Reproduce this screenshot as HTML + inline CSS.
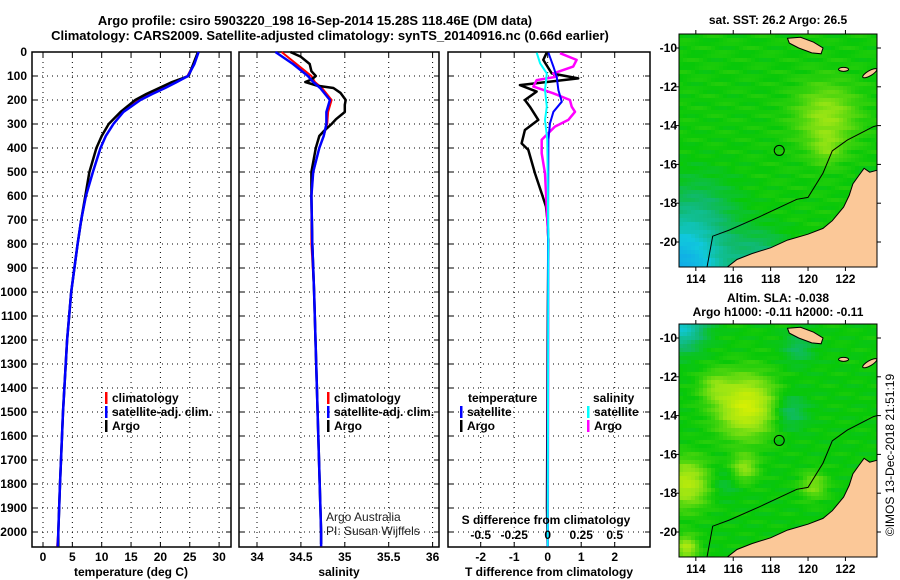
<!DOCTYPE html>
<html><head><meta charset="utf-8">
<style>
html,body{margin:0;padding:0;background:#fff;}
svg{display:block;font-family:"Liberation Sans",Arial,sans-serif;}
.t{font-size:12px;font-weight:bold;fill:#000;}
.ti{font-size:13px;font-weight:bold;fill:#000;}
.g{stroke:#000;stroke-width:1;stroke-dasharray:1 4;}
</style></head>
<body>
<svg id="fig" width="900" height="580" viewBox="0 0 900 580">
<text class="ti" x="315" y="25" text-anchor="middle">Argo profile: csiro 5903220_198 16-Sep-2014 15.28S 118.46E (DM data)</text>
<text class="ti" x="330" y="40" text-anchor="middle">Climatology: CARS2009. Satellite-adjusted climatology: synTS_20140916.nc (0.66d earlier)</text>
<g id="p1"></g>
<g id="p2"></g>
<g id="p3"></g>
<g id="m1"></g>
<g id="m2"></g>
<text class="t" x="778" y="24" text-anchor="middle">sat. SST: 26.2 Argo: 26.5</text>
<text class="t" x="778" y="302" text-anchor="middle">Altim. SLA: -0.038</text>
<text class="t" x="778" y="316" text-anchor="middle">Argo h1000: -0.11 h2000: -0.11</text>
<text class="t" style="font-weight:normal" x="0" y="0" transform="translate(894,455) rotate(-90)" text-anchor="middle">©IMOS 13-Dec-2018 21:51:19</text>
</svg>
<script>
// ---- data ----
const tDepths=[0,50,100,125,150,175,200,250,300,350,400,500,600,700,800,1000,1200,1500,1800,2000,2060];
const climT=[26.4,25.7,24.6,22.5,20.5,18.2,16.3,13.6,12.0,10.7,9.8,8.5,7.3,6.5,5.9,4.8,4.1,3.4,2.9,2.6,2.4];
const satT=[26.5,25.8,24.7,22.8,20.8,18.6,16.6,13.7,12.0,10.7,9.8,8.5,7.3,6.5,5.9,4.8,4.1,3.4,2.9,2.6,2.5];
const argoT=[26.4,25.6,24.8,22.0,19.8,17.6,15.7,13.2,11.2,10.0,9.1,7.9,7.2,6.5,5.9,4.8,4.1,3.4,2.9,2.6,2.6];
const sDepths=[0,50,100,125,150,200,250,300,350,400,500,600,800,1000,1500,2000,2060];
const climS=[34.28,34.45,34.62,34.66,34.74,34.85,34.81,34.80,34.76,34.71,34.64,34.62,34.62,34.65,34.69,34.73,34.73];
const satS=[34.21,34.41,34.58,34.64,34.72,34.83,34.79,34.79,34.76,34.71,34.64,34.62,34.63,34.65,34.69,34.73,34.73];
const argoSDepths=[0,20,50,80,100,115,125,140,150,170,200,220,250,280,300,330,350,400,500,600,800,1000,1500,2000,2050];
const argoS=[34.38,34.5,34.6,34.62,34.67,34.62,34.55,34.68,34.87,34.95,35.01,35.0,35.0,34.9,34.85,34.76,34.71,34.67,34.62,34.62,34.63,34.65,34.69,34.73,34.73];
const dTArgoDepths=[3,33,89,110,138,165,200,228,283,325,381,408,506,589,644,700,783,1200,1900,2060];
const dTArgo=[-0.03,-0.13,0.12,0.91,-0.83,-0.33,-0.68,-0.53,-0.28,-0.68,-0.78,-0.58,-0.38,-0.18,-0.05,-0.01,0.02,0.0,-0.02,0.0];
const dTSatDepths=[3,61,103,159,207,249,297,366,800,2060];
const dTSat=[0.02,0.17,0.27,0.32,0.42,0.17,0.07,0.02,0.01,0.0];
const dSArgoDepths=[5,33,61,89,103,117,144,172,200,228,249,283,311,366,422,506,783,2060];
const dSArgo=[0.092,0.216,0.19,0.042,0.067,-0.082,-0.107,0.042,0.166,0.179,0.204,0.154,0.054,-0.045,-0.045,-0.02,0.005,0.0];
const dSSatDepths=[3,47,89,158,228,283,366,783,2060];
const dSSat=[-0.082,-0.057,-0.007,-0.02,-0.007,-0.02,-0.003,0.005,0.0];
const depthTicks=[0,100,200,300,400,500,600,700,800,900,1000,1100,1200,1300,1400,1500,1600,1700,1800,1900,2000];
const tTicks=[0,5,10,15,20,25,30];
const sTicks=[34,34.5,35,35.5,36];
const sTickLabels=["34","34.5","35","35.5","36"];
const dTTicks=[-2,-1,0,1,2];
const dSTicks=[-0.5,-0.25,0,0.25,0.5];
const dSTickLabels=["-0.5","-0.25","0","0.25","0.5"];
const lonTicks=[114,116,118,120,122];
const latTicks=[-10,-12,-14,-16,-18,-20];
const argoLon=118.46, argoLat=-15.28;

const NS="http://www.w3.org/2000/svg";
function mk(tag,attrs,parent){const e=document.createElementNS(NS,tag);for(const k in attrs)e.setAttribute(k,attrs[k]);parent.appendChild(e);return e;}
const yD=d=>52+d*0.24;
const xT=t=>43+t*5.87;
const xS=s=>257+(s-34)*87.8;
const xDT=t=>547.7+t*33.5;
const xDS=s=>547.7+s*134;
const TOP=52,BOT=547;

function frame(g,L,R,xs,ticks,labels,showY){
  for(const t of ticks){const x=xs(t);const l=mk('line',{x1:x,x2:x,y1:TOP,y2:BOT,class:'g'},g);}
  for(const d of depthTicks){const y=yD(d);const l=mk('line',{x1:L,x2:R,y1:y,y2:y,class:'g'},g);
    mk('line',{x1:L,x2:L+5,y1:y,y2:y,stroke:'#000'},g);mk('line',{x1:R-5,x2:R,y1:y,y2:y,stroke:'#000'},g);
    if(showY){const tx=mk('text',{x:L-5,y:y+4,class:'t','text-anchor':'end'},g);tx.textContent=d;}}
  ticks.forEach((t,i)=>{const x=xs(t);mk('line',{x1:x,x2:x,y1:BOT-5,y2:BOT,stroke:'#000'},g);mk('line',{x1:x,x2:x,y1:TOP,y2:TOP+5,stroke:'#000'},g);
    const tx=mk('text',{x:x,y:561,class:'t','text-anchor':'middle'},g);tx.textContent=labels[i];});
  const r=mk('rect',{x:L,y:TOP,width:R-L,height:BOT-TOP,fill:'none',stroke:'#000','stroke-width':1.5},g);
}
function line(g,xs,vals,deps,color,w,name,L,R){
  const pts=vals.map((v,i)=>Math.min(R,Math.max(L,xs(v))).toFixed(1)+','+Math.min(BOT,yD(deps[i])).toFixed(1)).join(' ');
  const p=mk('polyline',{points:pts,fill:'none',stroke:color,'stroke-width':w,'stroke-linejoin':'round'},g);
  
}
function txt(g,x,y,s,name,extra){const t=mk('text',Object.assign({x:x,y:y,class:'t'},extra||{}),g);t.textContent=s;return t;}
function legend(g,x,y,color,label,name){const r=mk('rect',{x:x,y:y-10,width:2.5,height:12,fill:color},g);txt(g,x+7,y,label,name+'-label');}

// Panel 1
const p1=document.getElementById('p1');
frame(p1,32,231,xT,tTicks,tTicks.map(String),true);
line(p1,xT,climT,tDepths,'#f00',2,'climatology-temperature-line',32,231);
line(p1,xT,argoT,tDepths,'#000',2.5,'argo-temperature-line',32,231);
line(p1,xT,satT,tDepths,'#00f',2.5,'satellite-temperature-line',32,231);
txt(p1,131,576,'temperature (deg C)','temperature-axis-title',{'text-anchor':'middle'});
legend(p1,105,402,'#f00','climatology','legend-climatology');
legend(p1,105,416,'#00f','satellite-adj. clim.','legend-satellite');
legend(p1,105,430,'#000','Argo','legend-argo');

// Panel 2
const p2=document.getElementById('p2');
frame(p2,239,439,xS,sTicks,sTickLabels,false);
line(p2,xS,climS,sDepths,'#f00',2,'climatology-salinity-line',239,439);
line(p2,xS,argoS,argoSDepths,'#000',2.5,'argo-salinity-line',239,439);
line(p2,xS,satS,sDepths,'#00f',2.5,'satellite-salinity-line',239,439);
txt(p2,339,576,'salinity','salinity-axis-title',{'text-anchor':'middle'});
legend(p2,327,402,'#f00','climatology','legend-climatology-s');
legend(p2,327,416,'#00f','satellite-adj. clim.','legend-satellite-s');
legend(p2,327,430,'#000','Argo','legend-argo-s');
txt(p2,326,521,'Argo Australia','credit-line-1',{style:'font-weight:normal;fill:#222'});
txt(p2,326,535,'PI: Susan Wijffels','credit-line-2',{style:'font-weight:normal;fill:#222'});

// Panel 3
const p3=document.getElementById('p3');
frame(p3,448,650,xDT,dTTicks,dTTicks.map(String),false);
line(p3,xDT,dTArgo,dTArgoDepths,'#000',2.5,'argo-temperature-diff-line',448,650);
line(p3,xDS,dSArgo,dSArgoDepths,'#f0f',2.5,'argo-salinity-diff-line',448,650);
line(p3,xDT,dTSat,dTSatDepths,'#00f',2,'satellite-temperature-diff-line',448,650);
line(p3,xDS,dSSat,dSSatDepths,'#0ff',2,'satellite-salinity-diff-line',448,650);
txt(p3,549,576,'T difference from climatology','t-diff-axis-title',{'text-anchor':'middle'});
txt(p3,546,524,'S difference from climatology','s-diff-axis-title',{'text-anchor':'middle'});
dSTicks.forEach((s,i)=>{txt(p3,xDS(s),539,dSTickLabels[i],'s-diff-tick-label',{'text-anchor':'middle'});});
txt(p3,468,402,'temperature','legend-temperature-header');
legend(p3,460,416,'#00f','satellite','legend-t-satellite');
legend(p3,460,430,'#000','Argo','legend-t-argo');
txt(p3,593,402,'salinity','legend-salinity-header');
legend(p3,587,416,'#0ff','satellite','legend-s-satellite');
legend(p3,587,430,'#f0f','Argo','legend-s-argo');

// Maps
const ML=679,MR=877;
const mx=lon=>ML+(lon-113.1)*18.7;
function cmap(v){const st=[[0,[16,150,240]],[0.3,[16,200,220]],[0.5,[16,185,110]],[0.62,[8,200,8]],[0.8,[150,228,20]],[1,[228,242,0]]];
  v=Math.max(0,Math.min(1,v));for(let i=1;i<st.length;i++){if(v<=st[i][0]){const a=st[i-1],b=st[i],f=(v-a[0])/(b[0]-a[0]);return 'rgb('+a[1].map((c,j)=>Math.round(c+(b[1][j]-c)*f)).join(',')+')';}}return 'rgb(228,242,0)';}
const blobsSST=[[121,-13.5,1.6,0.17],[121,-15.2,0.8,0.1],[113,-21.6,2.4,-0.5],[114.2,-18.5,2.0,-0.1],[117.5,-21,1.5,-0.15],[123.3,-17,0.5,-0.3]];
const blobsSLA=[[116.7,-13.5,1.5,0.33],[113.5,-17.5,1.2,0.25],[116.6,-16.7,0.7,0.17],[120.3,-17.6,0.7,0.15],[119,-13.8,0.9,-0.12],[113.2,-9.3,1.2,-0.3],[113.5,-20.8,0.6,0.22],[115.5,-17.5,0.8,-0.06],[119.5,-10.5,0.8,-0.1],[115,-12.5,0.8,0.12]];
const land=[[115.6,-21.35],[116.2,-20.9],[117,-20.6],[118,-20.3],[118.9,-19.9],[120,-19.6],[120.8,-19.3],[121.3,-18.9],[121.9,-18.2],[122.2,-17.6],[122.4,-17.0],[122.7,-16.6],[123.0,-16.2],[123.3,-16.4],[123.7,-16.3],[123.7,-21.35]];
const island=[[118.9,-9.5],[119.6,-9.45],[120.3,-9.7],[120.8,-10.0],[120.7,-10.3],[120.2,-10.25],[119.5,-10.0],[119.0,-9.75]];
const isobath=[[114.6,-21.3],[114.9,-19.7],[115.8,-19.38],[117.4,-18.7],[119.4,-17.8],[120.0,-17.7],[120.8,-16.45],[121.3,-15.3],[122.1,-14.75],[123.5,-14.05],[123.7,-14.0]];
function drawMap(id,lat10y,blobs,base){
  const g=document.getElementById(id);const top=lat10y-14,bot=lat10y+219;
  const my=lat=>lat10y+(-lat-10)*19.4;
  const cid='clip'+id;const cp=mk('clipPath',{id:cid},g);mk('rect',{x:ML,y:top,width:MR-ML,height:bot-top},cp);
  const fld=mk('g',{'clip-path':'url(#'+cid+')'},g);
  for(let x=ML;x<MR;x+=4)for(let y=top;y<bot;y+=4){const lon=113.1+(x+2-ML)/18.7,lat=-10-(y+2-lat10y)/19.4;let v=base;
    for(const b of blobs){const d2=((lon-b[0])**2+(lat-b[1])**2)/(b[2]*b[2]);v+=b[3]*Math.exp(-d2);}
    v+=0.025*Math.sin(x*1.7+y*0.9)*Math.cos(y*1.3);
    mk('rect',{x:x,y:y,width:4,height:4,fill:cmap(v)},fld);}
  const pth=a=>a.map(p=>mx(p[0]).toFixed(1)+','+my(p[1]).toFixed(1)).join(' ');
  const l1=mk('polygon',{points:pth(land),fill:'#fbc898',stroke:'#000','stroke-width':1},fld);
  const l2=mk('polygon',{points:pth(island),fill:'#fbc898',stroke:'#000','stroke-width':1},fld);
  mk('ellipse',{cx:mx(121.9),cy:my(-11.1),rx:5,ry:2,fill:'#fbc898',stroke:'#000'},fld);
  mk('ellipse',{cx:mx(123.3),cy:my(-11.3),rx:8,ry:2.5,fill:'#fbc898',stroke:'#000',transform:'rotate(-30 '+mx(123.3)+' '+my(-11.3)+')'},fld);
  const iso=mk('polyline',{points:pth(isobath),fill:'none',stroke:'#000','stroke-width':1},fld);
  const c=mk('circle',{cx:mx(argoLon),cy:my(argoLat),r:5,fill:'none',stroke:'#000','stroke-width':1},g);
  const fr=mk('rect',{x:ML,y:top,width:MR-ML,height:bot-top,fill:'none',stroke:'#000','stroke-width':1},g);
  for(const lon of lonTicks){const x=mx(lon);mk('line',{x1:x,x2:x,y1:top,y2:top-4,stroke:'#000'},g);mk('line',{x1:x,x2:x,y1:bot,y2:bot+4,stroke:'#000'},g);
    txt(g,x,bot+16,String(lon),'lon-tick-label',{'text-anchor':'middle'});}
  for(const lat of latTicks){const y=my(lat);mk('line',{x1:ML,x2:ML-4,y1:y,y2:y,stroke:'#000'},g);mk('line',{x1:MR,x2:MR+4,y1:y,y2:y,stroke:'#000'},g);
    txt(g,ML-2,y+4,String(lat),'lat-tick-label',{'text-anchor':'end'});}
}
drawMap('m1',48,blobsSST,0.63);
drawMap('m2',338,blobsSLA,0.62);
</script>
</body></html>
